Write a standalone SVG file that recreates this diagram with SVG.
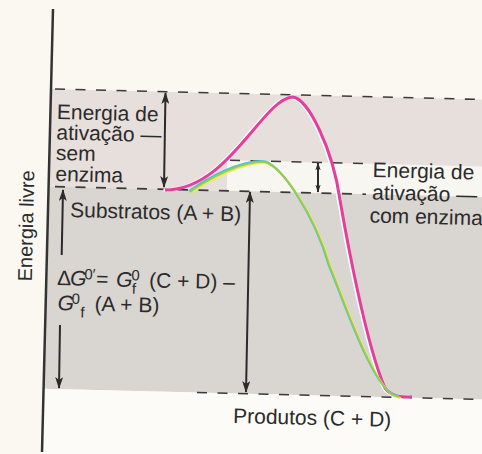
<svg xmlns="http://www.w3.org/2000/svg" width="482" height="454" viewBox="0 0 482 454">
<defs>
<style>
.t{font-family:"Liberation Sans",Arial,sans-serif;font-size:21px;fill:#2b2b2b}
.dash{stroke:#3a3a3a;stroke-width:1.6;stroke-dasharray:10 10.5;fill:none}
.arr{stroke:#2b2b2b;stroke-width:2;fill:none}
.i{font-style:italic}
.s{font-size:15px}
</style>
<marker id="ah" viewBox="0 0 12 8" refX="11" refY="4" markerWidth="12" markerHeight="8" markerUnits="userSpaceOnUse" orient="auto-start-reverse">
<path d="M0,0 L12,4 L0,8 L3,4 z" fill="#2b2b2b"/>
</marker>
<marker id="ahs" viewBox="0 0 12 8" refX="11" refY="4" markerWidth="8" markerHeight="6" markerUnits="userSpaceOnUse" orient="auto-start-reverse">
<path d="M0,0 L12,4 L0,8 L3,4 z" fill="#2b2b2b"/>
</marker>
</defs>
<g id="background">
<rect x="0" y="0" width="482" height="454" fill="#faf8f1"/>
<polygon points="52,89 482,99.5 482,197 49,186.4" fill="#e7dfdb"/>
<polygon points="227,160.2 482,166.5 482,197 227,190.8" fill="#f8f6f0"/>
<polygon points="49,186.4 482,197 482,399.5 43.5,388.8" fill="#d9d5d0"/>
<polygon points="43.5,388.8 482,399.5 482,454 40,454" fill="#fcfbf7"/>
</g>
<g id="axis">
<line x1="53" y1="9" x2="42" y2="452" stroke="#333" stroke-width="2.5"/>
<text class="t" font-size="20" transform="translate(33,226) rotate(-88.6)" text-anchor="middle" style="font-size:20px">Energia livre</text>
</g>
<g id="levels">
<line class="dash" x1="55" y1="89" x2="482" y2="99.5"/>
<line class="dash" x1="55" y1="186.6" x2="366" y2="194.2"/>
<line class="dash" x1="230" y1="160.3" x2="366" y2="163.6"/>
<line class="dash" x1="197" y1="392.5" x2="482" y2="399.5"/>
</g>
<g id="curves">
<path d="M165,190 C228,190 262,100 292,97 C308,97 333,150 340,200 C346,235 366,345 385,388 C392,397 400,397 412,397" fill="none" stroke="#ffffff" stroke-width="3" transform="translate(-1.6,0)"/>
<path d="M165,190 C228,190 262,100 292,97 C308,97 333,150 340,200 C346,235 366,345 385,388 C392,397 400,397 412,397" fill="none" stroke="#e2409c" stroke-width="3"/>
<g fill="none">
<path id="enz" d="M190,192 C210,178 240,162 263,162 C280,162 315,215 330,267 C340,290 365,365 387,390 C392,395 395,397 400,397" stroke="#ecec5c" stroke-width="2" transform="translate(1,1)"/>
<path d="M190,192 C210,178 240,162 263,162 C280,162 315,215 330,267 C340,290 365,365 387,390 C392,395 395,397 400,397" stroke="#52c4d0" stroke-width="2" transform="translate(-1,-1)"/>
<path d="M190,192 C210,178 240,162 263,162 C280,162 315,215 330,267 C340,290 365,365 387,390 C392,395 395,397 400,397" stroke="#9fcc40" stroke-width="1.6"/>
</g>
</g>
<g id="connectors">
<line class="arr" x1="165.5" y1="93" x2="164" y2="187" marker-start="url(#ah)" marker-end="url(#ah)"/>
<line class="arr" x1="318" y1="163" x2="318" y2="192" marker-start="url(#ahs)" marker-end="url(#ahs)" stroke-width="1.6"/>
<line class="arr" x1="61.7" y1="255" x2="63" y2="190" marker-end="url(#ah)"/>
<line class="arr" x1="60" y1="325" x2="59" y2="388" marker-end="url(#ah)"/>
<line class="arr" x1="250" y1="192" x2="246" y2="392" marker-start="url(#ah)" marker-end="url(#ah)"/>
</g>
<g id="label-sem-enzima" transform="rotate(1.4,56,150)">
<text class="t" x="56" y="119">Energia de</text>
<text class="t" x="56" y="139.5">ativação —</text>
<text class="t" x="56" y="160">sem</text>
<text class="t" x="56" y="181">enzima</text>
</g>
<g id="label-com-enzima" transform="rotate(1.4,372,200)">
<text class="t" x="372" y="177">Energia de</text>
<text class="t" x="372" y="199.5">ativação —</text>
<text class="t" x="370" y="222.5">com enzima</text>
</g>
<g id="label-substratos" transform="rotate(1.4,70,217)">
<text class="t" x="70" y="217">Substratos (A + B)</text>
</g>
<g id="label-deltaG" transform="rotate(1.4,57,285)">
<text class="t" x="57" y="285">Δ<tspan class="i" x="70">G</tspan><tspan class="s" x="84" dy="-6.5">0′</tspan><tspan x="96" dy="6.5">=</tspan><tspan class="i" x="116">G</tspan><tspan class="s" x="131" dy="-6.5">0</tspan><tspan class="s" x="132" dy="13.5">f</tspan><tspan x="149" dy="-7">(C + D) –</tspan></text>
<text class="t" x="58" y="310"><tspan class="i">G</tspan><tspan class="s" x="72" dy="-6.5">0</tspan><tspan class="s" x="81" dy="13.5">f</tspan><tspan x="95" dy="-7">(A + B)</tspan></text>
</g>
<g id="label-produtos" transform="rotate(1.4,233,423)">
<text class="t" x="233" y="423">Produtos (C + D)</text>
</g>
</svg>
